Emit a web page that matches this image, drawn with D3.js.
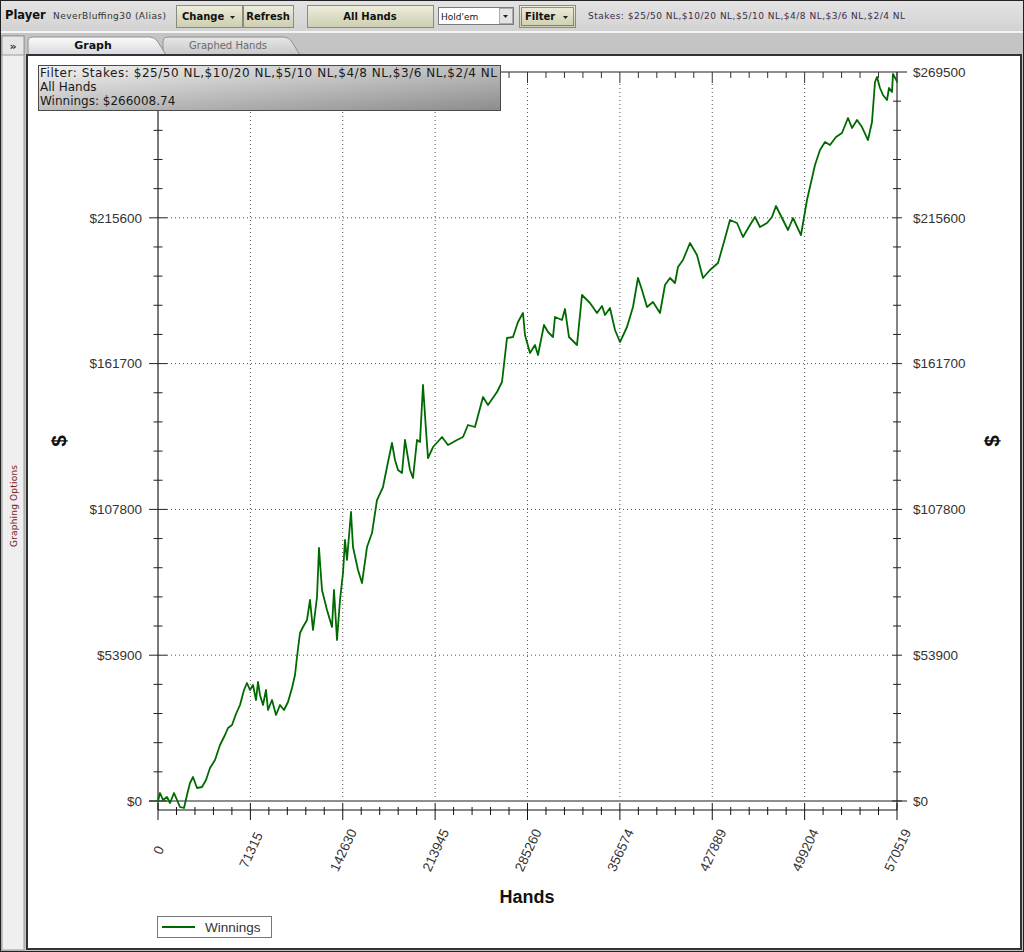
<!DOCTYPE html>
<html>
<head>
<meta charset="utf-8">
<script src="https://cdn.jsdelivr.net/npm/d3@7"></script>
<style>
  body { margin: 0; overflow: hidden; background: #fff; }
  svg { display: block; }
</style>
</head>
<body>
<script>
// hands played vs cumulative winnings
var hands = [0, 1544, 3860, 6948, 9264, 12352, 14668, 16984, 20072, 22388,
  24704, 27020, 30108, 33968, 37056, 40144, 44004, 47864, 51724, 54040,
  57128, 60216, 63304, 66392, 68708, 71024, 73340, 75656, 77200, 78744,
  81060, 83376, 84920, 88008, 91096, 94184, 97272, 100360, 103448, 105764,
  107308, 109624, 111940, 115028, 117344, 119660, 122748, 124292, 126608, 130468,
  134328, 135872, 138188, 140504, 142820, 144364, 145908, 148996, 150540, 154400,
  157488, 161348, 165208, 169068, 173700, 176788, 180648, 182964, 185280, 188368,
  190684, 194544, 196860, 199948, 202264, 204580, 206896, 208440, 212300, 219248,
  223880, 230828, 235460, 239320, 244724, 250900, 254760, 261708, 265568, 269428,
  274060, 277920, 281780, 283324, 287184, 291044, 293360, 297992, 301080, 304940,
  306484, 311888, 314204, 317292, 323468, 327328, 333504, 338908, 342768, 345084,
  348944, 352804, 356664, 362068, 366700, 370560, 373648, 377508, 382140, 387544,
  391404, 395264, 399124, 401440, 405300, 410704, 416108, 420740, 426144, 432320,
  436952, 441584, 446988, 451620, 457024, 460884, 464744, 470148, 474008, 477096,
  481728, 486360, 490220, 496396, 501028, 507204, 511064, 514924, 518784, 523416,
  528048, 532680, 535768, 539628, 543488, 548120, 551208, 553524, 555068, 557384,
  559700, 562788, 564332, 566648, 567420, 570519];

var winnings = [0, 2957, 370, 1479, -739, 2957, 370, -2218, -2588, 2218,
  6654, 8872, 4806, 5176, 7763, 12199, 15157, 20702, 24399, 26987,
  28096, 32162, 35489, 41034, 43622, 41034, 42883, 37338, 43992, 39186,
  35489, 41034, 33641, 37338, 31792, 35489, 33641, 36598, 41774, 46580,
  53234, 62106, 64324, 66912, 74306, 63215, 75415, 93529, 78003, 70609,
  64324, 78003, 59518, 74306, 84287, 96486, 89093, 106838, 93899, 85396,
  80590, 93899, 99074, 111274, 116080, 123473, 132346, 126061, 122364, 121255,
  133454, 122364, 119407, 133454, 132715, 153787, 137151, 126800, 130867, 134564,
  131606, 133454, 134564, 139000, 138261, 149351, 146394, 151200, 154897, 171162,
  171532, 177078, 180405, 172272, 165617, 168575, 164878, 175968, 173381, 171532,
  178926, 177817, 181883, 171532, 168575, 187058, 184101, 180405, 182992, 179665,
  182253, 174120, 169683, 175229, 182623, 193343, 188907, 182623, 184471, 180405,
  190756, 193343, 191495, 197410, 199998, 206282, 201846, 193343, 196300, 198888,
  206652, 214785, 213676, 208500, 212936, 215893, 212197, 213676, 215893, 219960,
  215523, 211087, 215523, 209238, 222178, 235116, 240662, 243620, 242511, 245468,
  246947, 252492, 248796, 251753, 249165, 244359, 251014, 265801, 267650, 263583,
  260996, 259147, 263583, 262104, 268759, 266008.74];

var xTicks = [0, 71315, 142630, 213945, 285260, 356574, 427889, 499204, 570519];
var yTicks = [0, 53900, 107800, 161700, 215600, 269500];
var stakes = "$25/50 NL,$10/20 NL,$5/10 NL,$4/8 NL,$3/6 NL,$2/4 NL";

var W = 1024, H = 952;
var svg = d3.select("body").append("svg").attr("width", W).attr("height", H);
var defs = svg.append("defs");

function grad(id, stops, x2, y2) {
  var g = defs.append("linearGradient").attr("id", id)
    .attr("x1", 0).attr("y1", 0).attr("x2", x2).attr("y2", y2);
  stops.forEach(function(s) {
    g.append("stop").attr("offset", s[0]).attr("stop-color", s[1]);
  });
}
grad("btn", [[0, "#eeeedd"], [1, "#cdcdb0"]], 0, 1);
grad("bar", [[0, "#e4e4e4"], [1, "#d2d2d2"]], 0, 1);
grad("tab", [[0, "#fbfbfb"], [1, "#d6d8dc"]], 0, 1);
grad("tab2", [[0, "#e6e6e6"], [1, "#c8c8c8"]], 0, 1);
grad("info", [[0, "#f2f2f2"], [1, "#8c8c8c"]], 1, 1);

// ---- window chrome ----
svg.append("rect").attr("width", W).attr("height", H).attr("fill", "#c4c4c4");
svg.append("rect").attr("width", W).attr("height", 31).attr("fill", "url(#bar)");
svg.append("line").attr("x1", 0).attr("x2", W).attr("y1", 32).attr("y2", 32)
  .attr("stroke", "#f4f4f4").attr("stroke-width", 2);

svg.append("text").attr("x", 5).attr("y", 19).text("Player")
  .attr("font-family", "DejaVu Sans").attr("font-weight", "bold").attr("font-size", 11.5)
  .attr("fill", "#111");
svg.append("text").attr("x", 53).attr("y", 19).text("NeverBluffing30 (Alias)")
  .attr("font-family", "DejaVu Sans").attr("font-size", 9).attr("textLength", 113)
  .attr("fill", "#333");

function button(x, w, label, arrow) {
  var g = svg.append("g");
  g.append("rect").attr("x", x + 0.5).attr("y", 5.5).attr("width", w).attr("height", 22)
    .attr("fill", "url(#btn)").attr("stroke", "#8a8a80");
  g.append("text").attr("x", arrow ? x + 6 : x + w / 2).attr("y", 20)
    .attr("text-anchor", arrow ? "start" : "middle").text(label)
    .attr("font-family", "DejaVu Sans").attr("font-weight", "bold").attr("font-size", 10)
    .attr("fill", "#111");
  if (arrow) {
    g.append("path").attr("d", "M" + (x + w - 12) + ",16 l5,0 l-2.5,3 z").attr("fill", "#222");
  }
  return g;
}
button(176, 66, "Change", true);
button(243, 50, "Refresh", false);
button(307, 126, "All Hands", false);
var fb = button(519, 56, "Filter", true);
fb.append("rect").attr("x", 521.5).attr("y", 7.5).attr("width", 52).attr("height", 18)
  .attr("fill", "none").attr("stroke", "#333").attr("stroke-dasharray", "1,1");

svg.append("rect").attr("x", 438.5).attr("y", 7.5).attr("width", 75).attr("height", 17)
  .attr("fill", "#fff").attr("stroke", "#7a7a7a");
svg.append("rect").attr("x", 499.5).attr("y", 8.5).attr("width", 13).attr("height", 15)
  .attr("fill", "#e4e4e4").attr("stroke", "#aaa");
svg.append("path").attr("d", "M503,15 l5,0 l-2.5,3 z").attr("fill", "#222");
svg.append("text").attr("x", 441).attr("y", 20).text("Hold'em")
  .attr("font-family", "DejaVu Sans").attr("font-size", 9).attr("fill", "#111");

svg.append("text").attr("x", 588).attr("y", 19).text("Stakes: " + stakes)
  .attr("font-family", "DejaVu Sans").attr("font-size", 9).attr("textLength", 317)
  .attr("fill", "#3a2d4a");

// side strip + tabs
svg.append("rect").attr("x", 2).attr("y", 36).attr("width", 22).attr("height", H - 38)
  .attr("fill", "#efefef").attr("stroke", "#9a9a9a");
svg.append("rect").attr("x", 2).attr("y", 36).attr("width", 22).attr("height", 19)
  .attr("fill", "#e6e6e6").attr("stroke", "#9a9a9a");
svg.append("text").attr("x", 13).attr("y", 50).attr("text-anchor", "middle").text("»")
  .attr("font-family", "DejaVu Sans").attr("font-weight", "bold").attr("font-size", 11)
  .attr("fill", "#333");
svg.append("text").attr("transform", "translate(17,506) rotate(-90)")
  .attr("text-anchor", "middle").text("Graphing Options")
  .attr("font-family", "DejaVu Sans").attr("font-size", 9).attr("textLength", 82)
  .attr("fill", "#7a2424");

svg.append("path").attr("d", "M163,55 L163,42 Q163,37 168,37 L284,37 Q289,37 292,42 L300,55 Z")
  .attr("fill", "url(#tab2)").attr("stroke", "#909090");
svg.append("text").attr("x", 228).attr("y", 49).attr("text-anchor", "middle").text("Graphed Hands")
  .attr("font-family", "DejaVu Sans").attr("font-size", 10).attr("fill", "#6a6a6a");
svg.append("path").attr("d", "M28,55 L28,42 Q28,37 33,37 L150,37 Q155,37 158,42 L166,55 Z")
  .attr("fill", "url(#tab)").attr("stroke", "#909090");
svg.append("text").attr("x", 93).attr("y", 49).attr("text-anchor", "middle").text("Graph")
  .attr("font-family", "DejaVu Sans").attr("font-weight", "bold").attr("font-size", 11)
  .attr("fill", "#111");

// main white panel
svg.append("rect").attr("x", 27).attr("y", 55).attr("width", 994).attr("height", 894)
  .attr("fill", "#fff").attr("stroke", "#333").attr("stroke-width", 2);
svg.append("rect").attr("x", 0.5).attr("y", 0.5).attr("width", W - 1).attr("height", H - 1)
  .attr("fill", "none").attr("stroke", "#222");

// ---- chart ----
var x = d3.scaleLinear().domain([0, 570519]).range([158, 897]);
var y = d3.scaleLinear().domain([0, 269500]).range([801, 72]);
var xMinor = d3.range(0, 570519, 570519 / 40);
var yMinor = d3.range(0, 269500, 269500 / 25);

var chart = svg.append("g");
var labelFont = "Liberation Sans, Arial";

// dotted grid
chart.selectAll(".vgrid").data(xTicks.slice(1, -1)).join("line").attr("class", "vgrid")
  .attr("x1", function(d) { return x(d); }).attr("x2", function(d) { return x(d); })
  .attr("y1", 84).attr("y2", 800)
  .attr("stroke", "#555").attr("stroke-dasharray", "1,3");
chart.selectAll(".hgrid").data(yTicks.slice(1, -1)).join("line").attr("class", "hgrid")
  .attr("x1", 167).attr("x2", 889)
  .attr("y1", function(d) { return y(d); }).attr("y2", function(d) { return y(d); })
  .attr("stroke", "#555").attr("stroke-dasharray", "1,3");

// frame lines (gray)
[0, 269500].forEach(function(v) {
  chart.append("line").attr("x1", 149).attr("x2", 907).attr("y1", y(v)).attr("y2", y(v))
    .attr("stroke", "#8e8e8e").attr("stroke-width", 2);
});
chart.append("line").attr("x1", x(0)).attr("x2", x(0)).attr("y1", y(269500)).attr("y2", 810)
  .attr("stroke", "#7a7a7a").attr("stroke-width", 2);
chart.append("line").attr("x1", x(570519)).attr("x2", x(570519)).attr("y1", y(269500)).attr("y2", 810)
  .attr("stroke", "#333").attr("stroke-width", 1.2);

// left / right y ticks
function yTickMarks(cx, majorHalf, minorHalf) {
  chart.append("g").selectAll("line").data(yMinor).join("line")
    .attr("x1", function(d) { return cx - (d % 53900 === 0 ? majorHalf : minorHalf); })
    .attr("x2", function(d) { return cx + (d % 53900 === 0 ? majorHalf : minorHalf); })
    .attr("y1", function(d) { return y(d); }).attr("y2", function(d) { return y(d); })
    .attr("stroke", "#222");
}
yTickMarks(x(0), 9, 4.5);
yTickMarks(x(570519), 5, 4);

var yfmt = function(d) { return "$" + d; };
// the top-left label sits under the info box in the original, so it is left out there
var leftAxis = chart.append("g").attr("transform", "translate(142,0)")
  .call(d3.axisLeft(y).tickValues(yTicks.slice(0, -1)).tickFormat(yfmt).tickSize(0).tickPadding(0));
var rightAxis = chart.append("g").attr("transform", "translate(913,0)")
  .call(d3.axisRight(y).tickValues(yTicks).tickFormat(yfmt).tickSize(0).tickPadding(0));
[leftAxis, rightAxis].forEach(function(a) {
  a.select(".domain").remove();
  a.selectAll("text").attr("font-family", labelFont).attr("font-size", 13.5)
    .attr("fill", "#333");
});

// bottom x axis (offset below plot)
chart.append("line").attr("x1", x(0)).attr("x2", x(570519)).attr("y1", 810).attr("y2", 810)
  .attr("stroke", "#111");
chart.append("g").selectAll("line").data(xMinor.concat([570519])).join("line")
  .attr("x1", function(d) { return x(d); }).attr("x2", function(d) { return x(d); })
  .attr("y1", function(d, i) { return i % 5 === 0 ? 803 : 807; })
  .attr("y2", function(d, i) { return i % 5 === 0 ? 820 : 815; })
  .attr("stroke", "#111");
// top ticks
chart.append("g").selectAll("line").data(xMinor.concat([570519])).join("line")
  .attr("x1", function(d) { return x(d); }).attr("x2", function(d) { return x(d); })
  .attr("y1", 72)
  .attr("y2", function(d, i) { return i % 5 === 0 ? 83 : 78; })
  .attr("stroke", "#333");

var bottomAxis = chart.append("g").attr("transform", "translate(0,850)")
  .call(d3.axisBottom(x).tickValues(xTicks).tickSize(0).tickPadding(0)
    .tickFormat(function(d) { return String(d); }));
bottomAxis.select(".domain").remove();
bottomAxis.selectAll("text")
  .attr("y", 0).attr("dy", "0.35em")
  .attr("transform", "rotate(-65)")
  .attr("text-anchor", "middle")
  .attr("font-family", labelFont).attr("font-size", 13.5).attr("fill", "#333");

// axis titles
chart.append("text").attr("x", 527).attr("y", 903).attr("text-anchor", "middle").text("Hands")
  .attr("font-family", labelFont).attr("font-weight", "bold").attr("font-size", 18)
  .attr("fill", "#111");
[59, 992].forEach(function(cx) {
  chart.append("text").attr("transform", "translate(" + cx + ",441) rotate(-90)")
    .attr("text-anchor", "middle").attr("dy", "0.35em").text("$")
    .attr("font-family", labelFont).attr("font-weight", "bold").attr("font-size", 21)
    .attr("fill", "#111");
});

// winnings line
var pts = hands.map(function(h, i) { return [h, winnings[i]]; });
chart.append("path").datum(pts)
  .attr("d", d3.line().x(function(d) { return x(d[0]); }).y(function(d) { return y(d[1]); }))
  .attr("fill", "none").attr("stroke", "#006a00").attr("stroke-width", 1.8)
  .attr("stroke-linejoin", "round");

// info box
var info = svg.append("g");
info.append("rect").attr("x", 38.5).attr("y", 65.5).attr("width", 462).attr("height", 45)
  .attr("fill", "url(#info)").attr("stroke", "#4a4a4a");
["Filter: Stakes: " + stakes, "All Hands", "Winnings: $266008.74"].forEach(function(s, i) {
  info.append("text").attr("x", 40).attr("y", 77 + i * 14).text(s)
    .attr("font-family", "DejaVu Sans").attr("font-size", 12).attr("fill", "#1a1a1a")
    .attr("textLength", i === 0 ? 457 : null);
});

// legend
var lg = svg.append("g");
lg.append("rect").attr("x", 157.5).attr("y", 916.5).attr("width", 114).attr("height", 21)
  .attr("fill", "#fff").attr("stroke", "#777");
lg.append("line").attr("x1", 162).attr("x2", 195).attr("y1", 927).attr("y2", 927)
  .attr("stroke", "#006a00").attr("stroke-width", 1.8);
lg.append("text").attr("x", 205).attr("y", 931.5).text("Winnings")
  .attr("font-family", labelFont).attr("font-size", 13.5).attr("fill", "#333");
</script>
</body>
</html>
